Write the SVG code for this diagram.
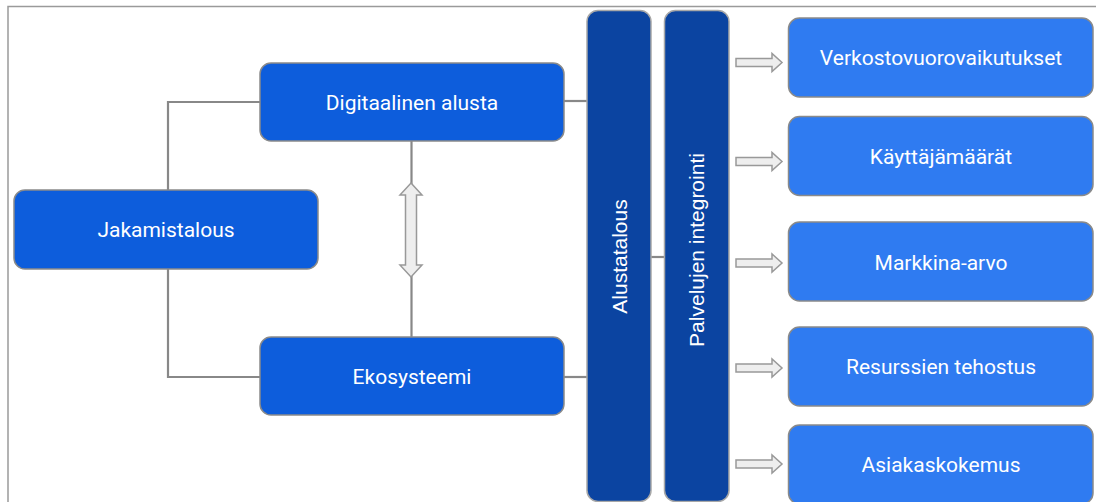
<svg xmlns="http://www.w3.org/2000/svg" width="1096" height="502" viewBox="0 0 1096 502">
  <defs>
    <style>
      .frame { fill: #ffffff; stroke: #9a9a9a; stroke-width: 1.5; }
      .node { fill: #0d5ddc; stroke: #8a8a8a; stroke-width: 1.5; }
      .bar { fill: #0b44a1; stroke: #a8a8a8; stroke-width: 1.5; }
      .out { fill: #2f7bf1; stroke: #8a8a8a; stroke-width: 1.5; }
      .label { font-family: Roboto, "Liberation Sans", sans-serif; font-size: 21px; fill: #ffffff; text-anchor: middle; }
      .vlabel { font-family: "Liberation Sans", Arial, sans-serif; font-size: 21px; fill: #ffffff; text-anchor: middle; }
      .link { fill: none; stroke: #888888; stroke-width: 2.2; }
      .block { fill: #eeeeee; stroke: #999999; stroke-width: 1.5; stroke-linejoin: miter; }
    </style>
  </defs>

  <!-- outer frame (right and bottom edges run past the canvas) -->
  <rect class="frame" x="8" y="6.5" width="1200" height="600"/>

  <!-- connectors -->
  <g id="connectors">
    <path class="link" d="M168 190 V102 H260"/>
    <path class="link" d="M168 269 V377 H260"/>
    <path class="link" d="M564 101 H587"/>
    <path class="link" d="M564 377 H587"/>
    <path class="link" d="M651 257 H664"/>
    <path class="link" d="M411.5 141 V337"/>
    <!-- double-headed block arrow -->
    <path class="block" d="M411 183 L422 195 H416.5 V265 H422 L411 277 L400 265 H405.5 V195 H400 Z"/>
    <!-- block arrows into outcome boxes -->
    <path class="block" d="M736 58.5 H772 V53.5 L782 62.5 L772 71.5 V66.5 H736 Z"/>
    <path class="block" d="M736 157.5 H772 V152.5 L782 161.5 L772 170.5 V165.5 H736 Z"/>
    <path class="block" d="M736 259 H772 V254 L782 263 L772 272 V267 H736 Z"/>
    <path class="block" d="M736 364 H772 V359 L782 368 L772 377 V372 H736 Z"/>
    <path class="block" d="M736 460 H772 V455 L782 464 L772 473 V468 H736 Z"/>
  </g>

  <g id="digitaalinen-alusta">
    <rect class="node" x="260" y="63" width="304" height="78" rx="11"/>
    <text class="label" x="412" y="109.5">Digitaalinen alusta</text>
  </g>

  <g id="jakamistalous">
    <rect class="node" x="14" y="190" width="304" height="79" rx="11"/>
    <text class="label" x="166" y="237.3">Jakamistalous</text>
  </g>

  <g id="ekosysteemi">
    <rect class="node" x="260" y="337" width="304" height="78" rx="11"/>
    <text class="label" x="412" y="384">Ekosysteemi</text>
  </g>

  <g id="alustatalous">
    <rect class="bar" x="587" y="10.5" width="64" height="491" rx="11"/>
    <text class="vlabel" transform="translate(627 256.5) rotate(-90)">Alustatalous</text>
  </g>

  <g id="palvelujen-integrointi">
    <rect class="bar" x="664.5" y="10.5" width="64.5" height="491" rx="11"/>
    <text class="vlabel" transform="translate(704 250) rotate(-90)">Palvelujen integrointi</text>
  </g>

  <g id="verkostovuorovaikutukset">
    <rect class="out" x="788.5" y="18" width="304.5" height="79" rx="11"/>
    <text class="label" x="941" y="65">Verkostovuorovaikutukset</text>
  </g>

  <g id="kayttajamaarat">
    <rect class="out" x="788.5" y="116.5" width="304.5" height="79" rx="11"/>
    <text class="label" x="941" y="164">Käyttäjämäärät</text>
  </g>

  <g id="markkina-arvo">
    <rect class="out" x="788.5" y="222" width="304.5" height="79" rx="11"/>
    <text class="label" x="941" y="269.5">Markkina-arvo</text>
  </g>

  <g id="resurssien-tehostus">
    <rect class="out" x="788.5" y="327" width="304.5" height="79" rx="11"/>
    <text class="label" x="941" y="374">Resurssien tehostus</text>
  </g>

  <g id="asiakaskokemus">
    <rect class="out" x="788.5" y="425" width="304.5" height="79" rx="11"/>
    <text class="label" x="941" y="472">Asiakaskokemus</text>
  </g>
</svg>
